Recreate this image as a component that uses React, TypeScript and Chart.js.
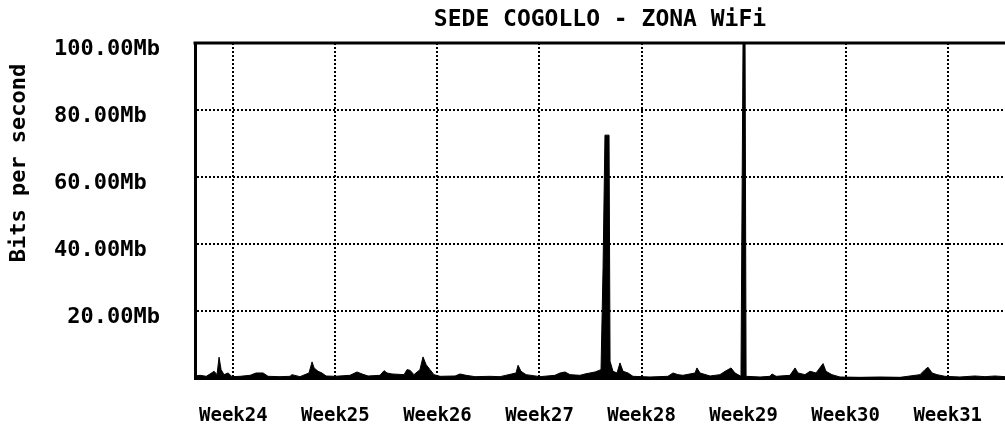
import React, { useEffect, useRef } from 'react';
import { Chart, registerables } from 'chart.js';

Chart.register(...registerables);

const chartTitle = 'SEDE COGOLLO - ZONA WiFi';
const yAxisTitle = 'Bits per second';
const weekLabels = ['Week24', 'Week25', 'Week26', 'Week27', 'Week28', 'Week29', 'Week30', 'Week31'];
const weekTickDays = [0, 7, 14, 21, 28, 35, 42, 49];
const yTickValues = [0, 20, 40, 60, 80, 100];
const yTickLabels = ['', '20.00Mb', '40.00Mb ', '60.00Mb ', '80.00Mb ', '100.00Mb'];
const xMinDay = -2.63;
const xMaxDay = 52.93;

// days relative to the Week24 line
const sampleDays = [
  -2.63, -2.28, -1.86, -1.6, -1.32, -1.12, -0.98, -0.84, -0.64, -0.36, -0.09, 0.46, 1.15, 1.56, 2.04, 2.38,
  3.2, 3.89, 4.02, 4.57, 5.19, 5.4, 5.54, 5.81, 6.08, 6.36, 6.98, 8.0, 8.48, 8.83, 9.24, 10.06, 10.34, 10.54,
  10.88, 11.71, 11.91, 12.12, 12.39, 12.8, 13.01, 13.22, 13.49, 13.76, 14.18, 15.21, 15.55, 15.96, 16.58,
  17.61, 18.29, 19.39, 19.53, 19.73, 20.08, 21.04, 22.06, 22.41, 22.75, 23.09, 23.78, 24.12, 24.81, 25.22,
  25.36, 25.49, 25.77, 25.84, 26.04, 26.32, 26.52, 26.73, 27.07, 27.41, 28.58, 29.81, 30.16, 30.5, 30.84,
  31.67, 31.8, 32.01, 32.7, 33.38, 33.73, 34.14, 34.41, 34.82, 34.96, 35.1, 35.17, 36.13, 36.81, 36.95,
  37.23, 38.18, 38.53, 38.73, 39.21, 39.56, 39.97, 40.45, 40.65, 41.06, 41.61, 42.98, 44.35, 45.73, 47.1,
  47.44, 47.65, 47.93, 48.27, 48.81, 49.84, 50.87, 51.56, 52.24, 52.93,
];

// Mb/s
const trafficMb = [
  0.6, 0.8, 0.5, 1.2, 2.0, 1.0, 6.2, 2.5, 1.0, 1.5, 0.4, 0.5, 0.8, 1.5, 1.5, 0.5,
  0.4, 0.5, 1.0, 0.4, 1.5, 4.8, 3.0, 2.0, 1.5, 0.6, 0.5, 0.8, 1.8, 1.2, 0.6, 0.8, 2.2, 1.5,
  1.2, 1.0, 2.5, 2.3, 1.0, 2.5, 6.3, 4.0, 2.5, 1.0, 0.5, 0.6, 1.2, 0.8, 0.4,
  0.5, 0.4, 1.5, 3.8, 2.0, 1.0, 0.4, 0.8, 1.5, 1.8, 1.0, 0.8, 1.2, 1.8, 2.5,
  33.0, 72.5, 72.5, 5.0, 2.0, 1.5, 4.5, 2.0, 1.5, 0.5, 0.3, 0.5, 1.5, 1.0, 0.8,
  1.5, 3.0, 1.5, 0.6, 1.0, 2.0, 3.0, 1.5, 0.5, 100.0, 100.0, 0.5, 0.3, 0.5, 1.2,
  0.5, 0.8, 3.0, 1.5, 1.0, 2.0, 1.5, 4.3, 2.0, 1.0, 0.3, 0.2, 0.3, 0.2, 1.0,
  2.5, 3.2, 1.5, 1.0, 0.5, 0.3, 0.6, 0.4, 0.6, 0.4,
];

const monoFamily = '"DejaVu Sans Mono", "Liberation Mono", monospace';

const frameAndAxisTitle = {
  id: 'frameAndAxisTitle',
  afterDraw(chart: any) {
    const { ctx, chartArea } = chart;
    ctx.save();
    ctx.strokeStyle = '#000';
    ctx.lineWidth = 3;
    ctx.beginPath();
    ctx.moveTo(chartArea.left - 1.5, chartArea.top);
    ctx.lineTo(chartArea.right, chartArea.top);
    ctx.stroke();
    ctx.translate(19, 163);
    ctx.rotate(-Math.PI / 2);
    ctx.font = `bold 22px ${monoFamily}`;
    ctx.fillStyle = '#000';
    ctx.textAlign = 'center';
    ctx.textBaseline = 'middle';
    ctx.fillText(yAxisTitle, 0, 0);
    ctx.restore();
  },
};

export default function App() {
  const canvasRef = useRef<HTMLCanvasElement | null>(null);

  useEffect(() => {
    const canvas = canvasRef.current;
    if (!canvas) return;
    const points = sampleDays.map((d, i) => ({ x: d, y: trafficMb[i] }));
    const chart = new Chart(canvas, {
      type: 'line',
      data: {
        datasets: [
          {
            label: 'Traffic',
            data: points,
            borderColor: '#000',
            backgroundColor: '#000',
            borderWidth: 1,
            fill: 'origin',
            pointRadius: 0,
            tension: 0,
          },
        ],
      },
      plugins: [frameAndAxisTitle],
      options: {
        animation: false,
        responsive: true,
        maintainAspectRatio: false,
        layout: { padding: { left: 0, right: 0, top: 0, bottom: 0 } },
        plugins: {
          legend: { display: false },
          tooltip: { enabled: false },
          title: {
            display: true,
            text: chartTitle,
            color: '#000',
            fullSize: false,
            font: { family: monoFamily, size: 23, weight: 'bold' },
            padding: { top: 6, bottom: 9.4 },
          },
        },
        scales: {
          x: {
            type: 'linear',
            min: xMinDay,
            max: xMaxDay,
            afterBuildTicks: (scale: any) => {
              scale.ticks = weekTickDays.map((v) => ({ value: v }));
            },
            afterFit: (scale: any) => {
              scale.height = 50;
              scale.paddingLeft = 0;
              scale.paddingRight = 0;
            },
            ticks: {
              color: '#000',
              padding: 27,
              maxRotation: 0,
              autoSkip: false,
              font: { family: monoFamily, size: 19, weight: 'bold' },
              callback: (value: any) => {
                const i = weekTickDays.indexOf(Number(value));
                return i >= 0 ? weekLabels[i] : '';
              },
            },
            grid: { color: '#000', lineWidth: 2, drawTicks: false },
            border: { display: true, color: '#000', width: 3, dash: [2, 2] },
          },
          y: {
            type: 'linear',
            min: 0,
            max: 100,
            afterBuildTicks: (scale: any) => {
              scale.ticks = yTickValues.map((v) => ({ value: v }));
            },
            afterFit: (scale: any) => {
              scale.width = 195;
              scale.paddingTop = 14;
              scale.paddingBottom = 14;
            },
            ticks: {
              color: '#000',
              padding: 35,
              crossAlign: 'near',
              labelOffset: 6,
              font: { family: monoFamily, size: 22, weight: 'bold' },
              callback: (value: any) => {
                const i = yTickValues.indexOf(Number(value));
                return i >= 0 ? yTickLabels[i] : '';
              },
            },
            grid: { color: '#000', lineWidth: 2, drawTicks: false },
            border: { display: true, color: '#000', width: 3, dash: [2, 2] },
          },
        },
      },
    } as any);
    return () => chart.destroy();
  }, []);

  return (
    <div style={{ position: 'absolute', left: 0, top: 0, width: 1005, height: 428, background: '#fff' }}>
      <canvas ref={canvasRef} />
    </div>
  );
}
